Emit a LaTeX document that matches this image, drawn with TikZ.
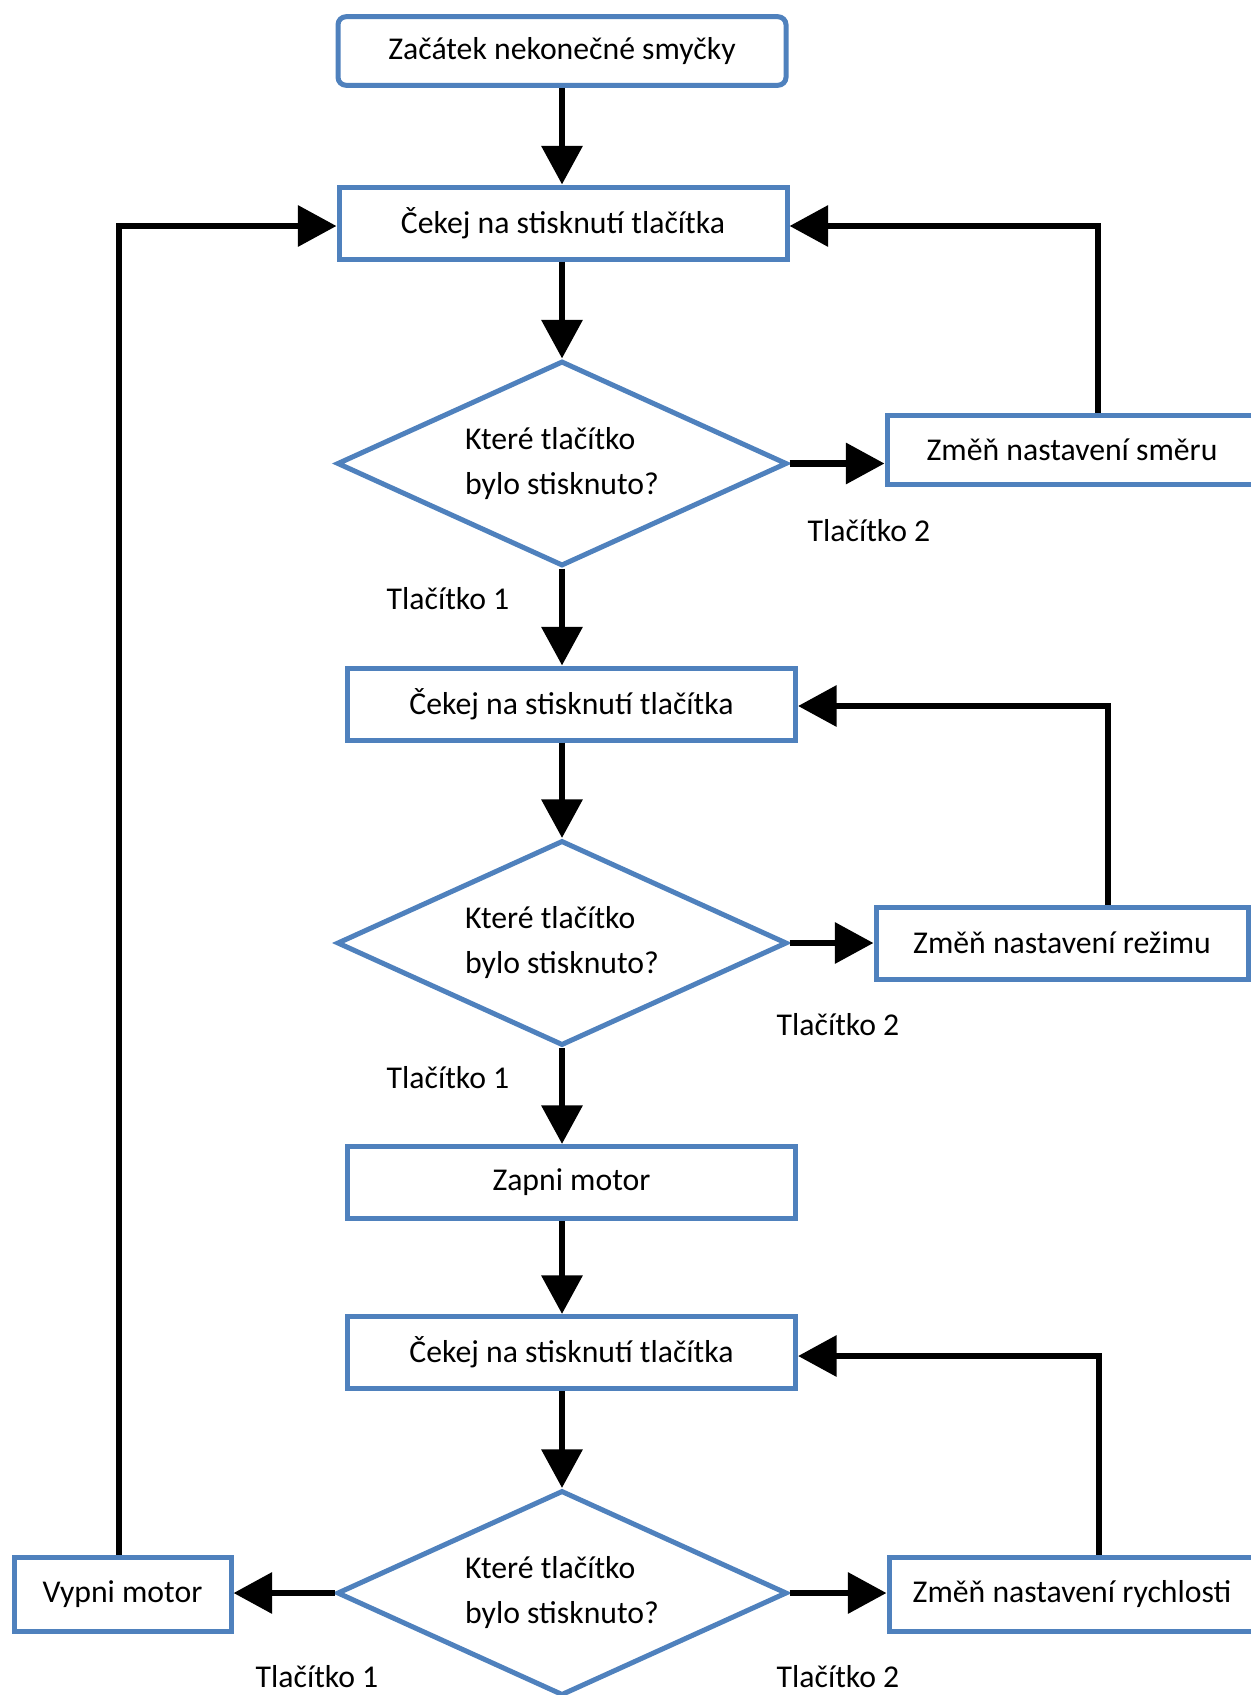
\documentclass[tikz,border=0pt]{standalone}
\usepackage{fontspec}
\setmainfont{Carlito}
\usepackage{tikz}
\usetikzlibrary{arrows.meta, shapes.geometric, positioning}

\definecolor{boxblue}{HTML}{4F81BD}

\begin{document}
\begin{tikzpicture}[
                x=0.75pt, y=-0.75pt,
                every node/.style={font=\fontsize{23.8pt}{33.75pt}\selectfont},
                box/.style={rectangle, draw=boxblue, line width=3.75pt, fill=white,
                    minimum width=336pt, minimum height=54pt, inner sep=0pt},
                startbox/.style={box, rounded corners=6pt, minimum height=51.4pt},
                decision/.style={diamond, draw=boxblue, line width=3.75pt, fill=white,
                    aspect=2.2, minimum width=337.5pt, minimum height=153.75pt,
                    inner sep=0pt, align=left},
                edge/.style={line width=5pt, -{Triangle[length=29pt, width=30pt]}},
                label/.style={inner sep=0pt}
            ]
            \useasboundingbox (0,0) rectangle (1251,1695);

            \node[startbox] (start) at (562,51) {Začátek nekonečné smyčky};
            \node[box] (wait1) at (563,223) {Čekej na stisknutí tlačítka};
            \node[decision] (q1) at (562,463.5) {Které tlačítko\\bylo stisknuto?};
            \node[box, minimum width=277.5pt, minimum height=51.75pt] (smer) at (1072,449.5) {Změň nastavení směru};

            \node[box] (wait2) at (571.5,704) {Čekej na stisknutí tlačítka};
            \node[decision] (q2) at (562,943) {Které tlačítko\\bylo stisknuto?};
            \node[box, minimum width=279pt] (rezim) at (1062,943) {Změň nastavení režimu};

            \node[box] (zapni) at (571.5,1182.5) {Zapni motor};
            \node[box] (wait3) at (571.5,1352.5) {Čekej na stisknutí tlačítka};
            \node[decision] (q3) at (562,1593) {Které tlačítko\\bylo stisknuto?};
            \node[box, minimum width=274.5pt, minimum height=55.5pt] (rychlost) at (1072,1594) {Změň nastavení rychlosti};
            \node[box, minimum width=162.75pt, minimum height=55.5pt] (vypni) at (122.5,1594) {Vypni motor};

            \node[label] (t2a) at (869,531) {Tlačítko 2};
            \node[label] (t1a) at (448,599) {Tlačítko 1};
            \node[label] (t2b) at (838,1025) {Tlačítko 2};
            \node[label] (t1b) at (448,1078) {Tlačítko 1};
            \node[label] (t1c) at (317,1677) {Tlačítko 1};
            \node[label] (t2c) at (838,1677) {Tlačítko 2};

            \coordinate (c1) at (1098,226);
            \coordinate (c2) at (1108,706);
            \coordinate (c3) at (1099,1356);
            \coordinate (c4) at (119,226);

            % main column
            \draw[edge] (start.south -| q1.north) -- (wait1.north -| q1.north);
            \draw[edge] (wait1.south -| q1.north) -- (q1.north);
            \draw[edge] (q1.south) -- (q1.south |- wait2.north);
            \draw[edge] (q2.north |- wait2.south) -- (q2.north);
            \draw[edge] (q2.south) -- (q2.south |- zapni.north);
            \draw[edge] (q2.south |- zapni.south) -- (q2.south |- wait3.north);
            \draw[edge] (q3.north |- wait3.south) -- (q3.north);

            % branches
            \draw[edge] (q1.east) -- (q1.east -| smer.west);
            \draw[edge] (smer.north -| c1) -- (c1) -- (c1 -| wait1.east);
            \draw[edge] (q2.east) -- (q2.east -| rezim.west);
            \draw[edge] (rezim.north -| c2) -- (c2) -- (c2 -| wait2.east);
            \draw[edge] (q3.east) -- (q3.east -| rychlost.west);
            \draw[edge] (rychlost.north -| c3) -- (c3) -- (c3 -| wait3.east);
            \draw[edge] (q3.west) -- (q3.west -| vypni.east);
            \draw[edge] (vypni.north -| c4) -- (c4) -- (c4 -| wait1.west);
            \end{tikzpicture}
\end{document}
